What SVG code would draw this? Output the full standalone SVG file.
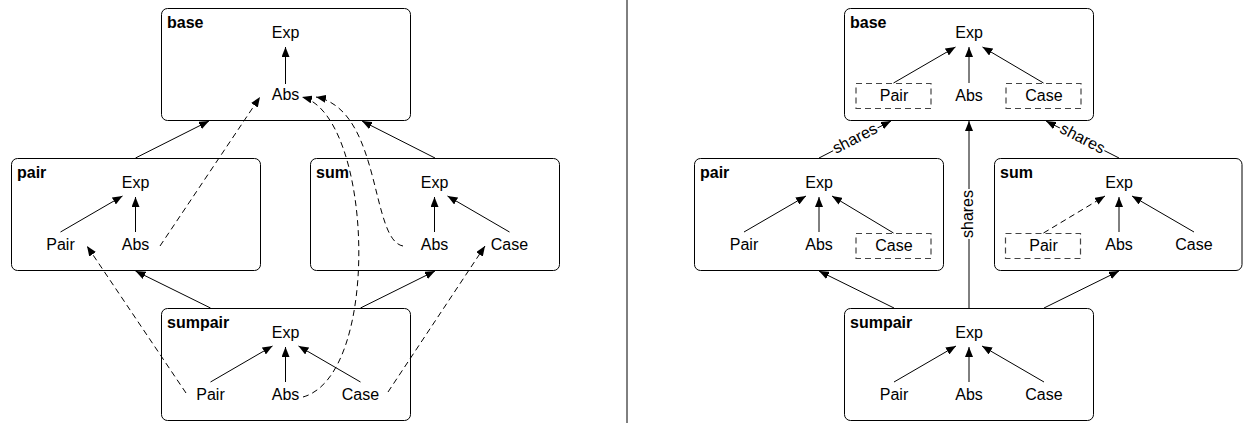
<svg xmlns="http://www.w3.org/2000/svg" width="1243" height="423" viewBox="0 0 1243 423">
<style>
text{font-family:"Liberation Sans",Arial,sans-serif;font-size:16px;fill:#000}
.n{text-anchor:middle}
.t{font-weight:bold}
.box{fill:#fff;stroke:#000;stroke-width:1}
.dbox{fill:none;stroke:#444;stroke-width:1.2;stroke-dasharray:6,4}
.e{fill:none;stroke:#000;stroke-width:1;marker-end:url(#ah)}
.d{stroke-dasharray:6,4}
.l{fill:none;stroke:#000;stroke-width:1}
</style>
<defs>
<marker id="ah" viewBox="0 0 10 8" refX="10" refY="4" markerWidth="10" markerHeight="8" markerUnits="userSpaceOnUse" orient="auto"><path d="M0,0 L10,4 L0,8 z" fill="#000"/></marker>
</defs>
<rect x="0" y="0" width="1243" height="423" fill="#fff"/>
<line x1="627" y1="0" x2="627" y2="423" class="l"/>

<!-- LEFT -->
<g id="L-base">
<rect class="box" x="161.5" y="8.5" width="249" height="112" rx="6"/>
<text class="t" x="167" y="28">base</text>
<text class="n" x="285.5" y="38">Exp</text>
<text class="n" x="285.5" y="100">Abs</text>
<path class="e" d="M285.5,84 L285.5,47"/>
</g>
<g id="L-pair">
<rect class="box" x="11.5" y="158.5" width="249" height="112" rx="6"/>
<text class="t" x="17" y="178">pair</text>
<text class="n" x="135.5" y="188">Exp</text>
<text class="n" x="60.5" y="250">Pair</text>
<text class="n" x="135.5" y="250">Abs</text>
<path class="e" d="M60.5,232 L122.5,196"/>
<path class="e" d="M135.5,232 L135.5,197"/>
</g>
<g id="L-sum">
<rect class="box" x="310.5" y="158.5" width="249" height="112" rx="6"/>
<text class="t" x="316" y="178">sum</text>
<text class="n" x="434.5" y="188">Exp</text>
<text class="n" x="434.5" y="250">Abs</text>
<text class="n" x="509.5" y="250">Case</text>
<path class="e" d="M434.5,232 L434.5,197"/>
<path class="e" d="M509.5,232 L447.5,196"/>
</g>
<g id="L-sumpair">
<rect class="box" x="161.5" y="308.5" width="249" height="112" rx="6"/>
<text class="t" x="167" y="328">sumpair</text>
<text class="n" x="285.5" y="338">Exp</text>
<text class="n" x="210.5" y="400">Pair</text>
<text class="n" x="285.5" y="400">Abs</text>
<text class="n" x="360.5" y="400">Case</text>
<path class="e" d="M210.5,382 L272.5,346"/>
<path class="e" d="M285.5,382 L285.5,347"/>
<path class="e" d="M360.5,382 L298.5,346"/>
</g>

<!-- RIGHT -->
<g id="R-base">
<rect class="box" x="844.5" y="8.5" width="249" height="112" rx="6"/>
<text class="t" x="850" y="28">base</text>
<text class="n" x="969" y="38">Exp</text>
<rect class="dbox" x="856" y="83.5" width="75" height="25"/>
<text class="n" x="894" y="101">Pair</text>
<text class="n" x="969" y="101">Abs</text>
<rect class="dbox" x="1006" y="83.5" width="75" height="25"/>
<text class="n" x="1044" y="101">Case</text>
<path class="e" d="M893.5,83 L955.5,47"/>
<path class="e" d="M969,83 L969,47"/>
<path class="e" d="M1043.5,83 L982.5,47"/>
</g>
<g id="R-pair">
<rect class="box" x="694.5" y="158.5" width="249" height="112" rx="6"/>
<text class="t" x="700" y="178">pair</text>
<text class="n" x="819" y="188">Exp</text>
<text class="n" x="744" y="250">Pair</text>
<text class="n" x="819" y="250">Abs</text>
<rect class="dbox" x="856" y="233.5" width="75" height="25"/>
<text class="n" x="894" y="251">Case</text>
<path class="e" d="M744,232 L806,196"/>
<path class="e" d="M819,232 L819,197"/>
<path class="e" d="M893.5,233 L832,196"/>
</g>
<g id="R-sum">
<rect class="box" x="994.5" y="158.5" width="247.5" height="112" rx="6"/>
<text class="t" x="1000" y="178">sum</text>
<text class="n" x="1119" y="188">Exp</text>
<rect class="dbox" x="1005.5" y="233.5" width="75" height="25"/>
<text class="n" x="1043.5" y="251">Pair</text>
<text class="n" x="1119" y="250">Abs</text>
<text class="n" x="1194" y="250">Case</text>
<path class="e d" d="M1043.5,233 L1105,196"/>
<path class="e" d="M1119,232 L1119,197"/>
<path class="e" d="M1194,232 L1132,196"/>
</g>
<g id="R-sumpair">
<rect class="box" x="844.5" y="308.5" width="249" height="112" rx="6"/>
<text class="t" x="850" y="328">sumpair</text>
<text class="n" x="969" y="338">Exp</text>
<text class="n" x="894" y="400">Pair</text>
<text class="n" x="969" y="400">Abs</text>
<text class="n" x="1044" y="400">Case</text>
<path class="e" d="M894,382 L956,346"/>
<path class="e" d="M969,382 L969,347"/>
<path class="e" d="M1044,382 L982,346"/>
</g>

<g id="connectors">
<!-- left -->
<path class="e" d="M135.5,158 L209,121"/>
<path class="e" d="M435,158 L362,121"/>
<path class="e" d="M210.5,308 L135.5,271"/>
<path class="e" d="M360.5,308 L435,271"/>
<path class="e d" d="M160,246 L260,97"/>
<path class="e d" d="M186,393 L87,246"/>
<path class="e d" d="M388,392 L485,246"/>
<path class="e d" d="M303,397 C382,375 373,115 302,97"/>
<path class="e d" d="M403,246 C370,240 382,110 316,97"/>
<!-- right -->
<path class="e" d="M819,158 L891,121"/>
<path class="e" d="M1119,158 L1046,121"/>
<path class="e" d="M969,308 L969,121"/>
<path class="e" d="M894,308 L819,271"/>
<path class="e" d="M1044,308 L1119,271"/>
<g transform="translate(855.5,139.5) rotate(-27.3)"><rect x="-25" y="-8" width="50" height="15" fill="#fff"/><text class="n" x="0" y="4">shares</text></g>
<g transform="translate(1082,139.5) rotate(27.3)"><rect x="-25" y="-8" width="50" height="15" fill="#fff"/><text class="n" x="0" y="4">shares</text></g>
<g transform="translate(969,214) rotate(-90)"><rect x="-25" y="-8" width="50" height="15" fill="#fff"/><text class="n" x="0" y="4">shares</text></g>
</g>
</svg>
